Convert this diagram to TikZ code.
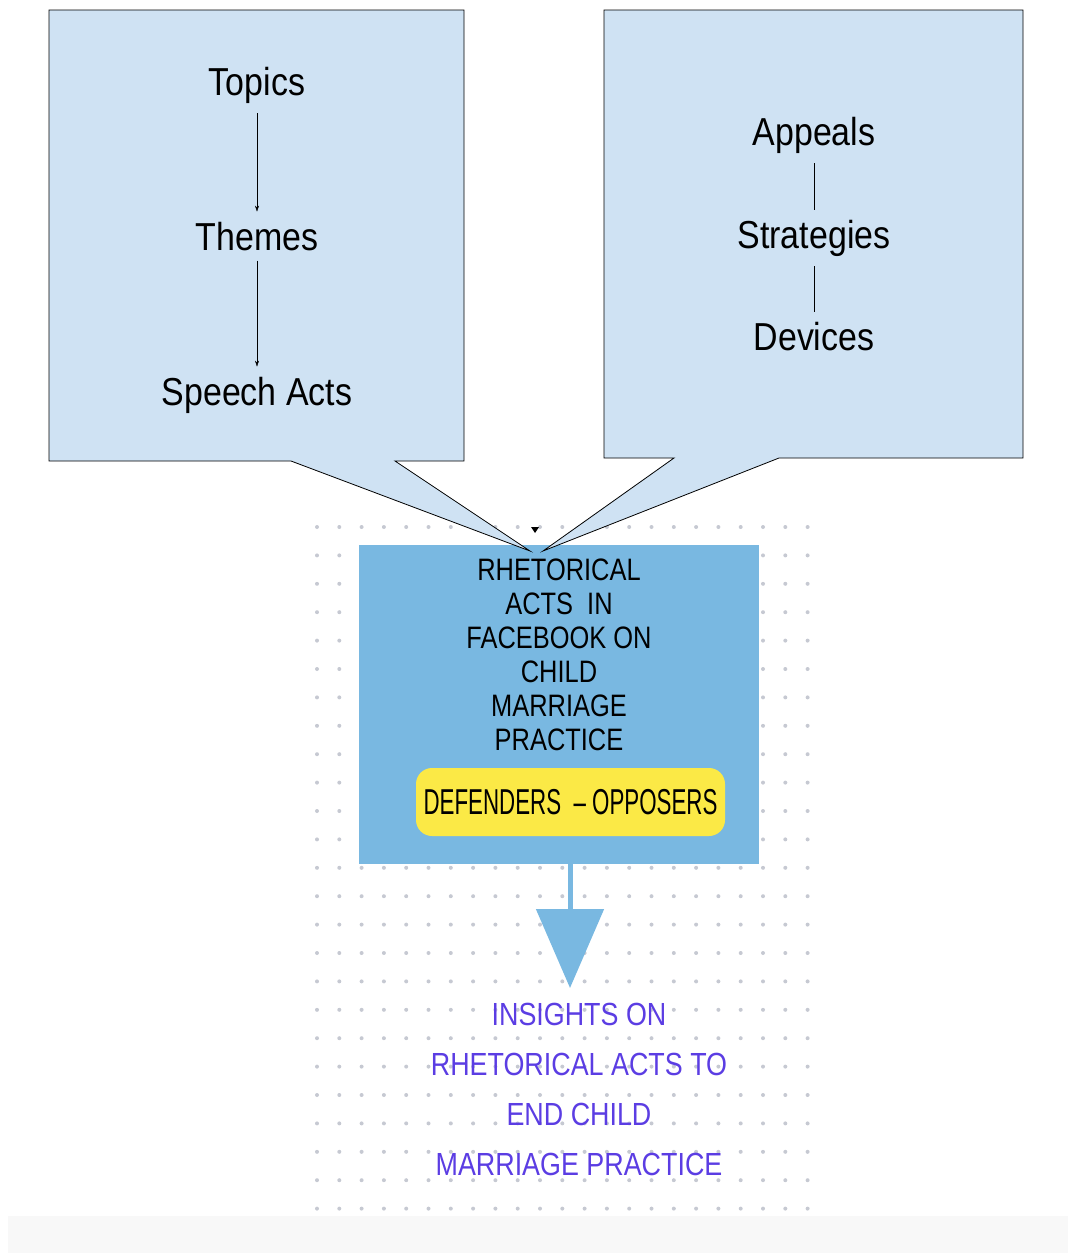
\documentclass[tikz,border=0pt]{standalone}
\usepackage{fontspec}
\usepackage{tikz}
\usetikzlibrary{positioning}
\usetikzlibrary{arrows.meta}
\setmainfont{Liberation Sans}
\newfontfamily\toplabelfont{Liberation Sans}[FakeStretch=0.87]
\newfontfamily\boxfont{Liberation Sans}[FakeStretch=0.82]
\newfontfamily\handfont{Liberation Sans}[FakeStretch=0.62]
\newfontfamily\insightfont{Liberation Sans}[FakeStretch=0.84]
\definecolor{CALLOUT}{HTML}{CFE2F3}
\definecolor{BOX}{HTML}{79B8E1}
\definecolor{YELLOW}{HTML}{FBE946}
\definecolor{INSIGHT}{HTML}{5B3DE3}
\definecolor{DOT}{HTML}{C6C9D2}
\definecolor{BAND}{HTML}{F8F8F8}
\tikzset{
	toplabel/.style = {anchor=base, inner sep=10pt, font=\toplabelfont\fontsize{39}{44}\selectfont},
	steparrow/.style = {thin, -{Stealth[length=6pt, width=4pt]}},
	stepline/.style = {thin},
	callout/.style = {fill=CALLOUT, draw=black, line width=0.8pt, line join=miter},
	actsbox/.style = {fill=BOX, draw=none, minimum width=400pt, minimum height=319pt},
	actstext/.style = {align=center, font=\boxfont\fontsize{31}{34}\selectfont},
	sidebox/.style = {fill=YELLOW, rounded corners=16pt, minimum width=309pt, minimum height=68pt, font=\handfont\fontsize{36}{40}\selectfont},
	flowarrow/.style = {BOX, line width=5pt, -{Triangle[length=79pt, width=67pt]}},
	insight/.style = {align=center, text=INSIGHT, font=\insightfont\fontsize{32}{50}\selectfont}
}
\begin{document}
\begin{tikzpicture}[x=1pt, y=-1pt]
		\useasboundingbox (0,0) rectangle (1068,1253);
		% bottom band
		\fill[BAND] (8,1216) rectangle (1068,1253);
		% dot grid
		\foreach \i in {0,...,22}
			\foreach \j in {0,...,24}
				\fill[DOT] (317+\i*22.3, 527+\j*28.4) circle (2);
		% central box
		\node[actsbox] (acts) at (559,704.5) {};
		\node[actstext] (actslabel) at (559,655) {RHETORICAL\\ACTS\ \ IN\\FACEBOOK ON\\CHILD\\MARRIAGE\\PRACTICE};
		\node[sidebox] (sides) at (570.5,802) {DEFENDERS\ \ – OPPOSERS};
		% arrow to insights
		\node[insight] (insight) at (579,1089.5) {INSIGHTS ON\\RHETORICAL ACTS TO\\END CHILD\\MARRIAGE PRACTICE};
		\coordinate (arrowtip) at (570,988);
		\draw[flowarrow] (acts.south -| arrowtip) -- (arrowtip);
		% left callout
		\draw[callout] (49,10) -- (464,10) -- (464,461) -- (395,461) -- (530,551)
		      -- (291,461) -- (49,461) -- cycle;
		% right callout
		\draw[callout] (604,10) -- (1023,10) -- (1023,458) -- (779,458) -- (543,551)
		      -- (674,458) -- (604,458) -- cycle;
		\fill[black] (531,527) -- (539,527) -- (535,533) -- cycle;
		% left hand labels
		\node[toplabel] (topics) at (257,95) {Topics};
		\node[toplabel] (themes) at (257,250) {Themes};
		\node[toplabel] (speech) at (257,405) {Speech Acts};
		\draw[steparrow] (topics) -- (themes);
		\draw[steparrow] (themes) -- (speech);
		% right hand labels
		\node[toplabel] (appeals) at (814,145) {Appeals};
		\node[toplabel] (strategies) at (814,248) {Strategies};
		\node[toplabel] (devices) at (814,350) {Devices};
		\draw[stepline] (appeals) -- (strategies);
		\draw[stepline] (strategies) -- (devices);
	\end{tikzpicture}
\end{document}
